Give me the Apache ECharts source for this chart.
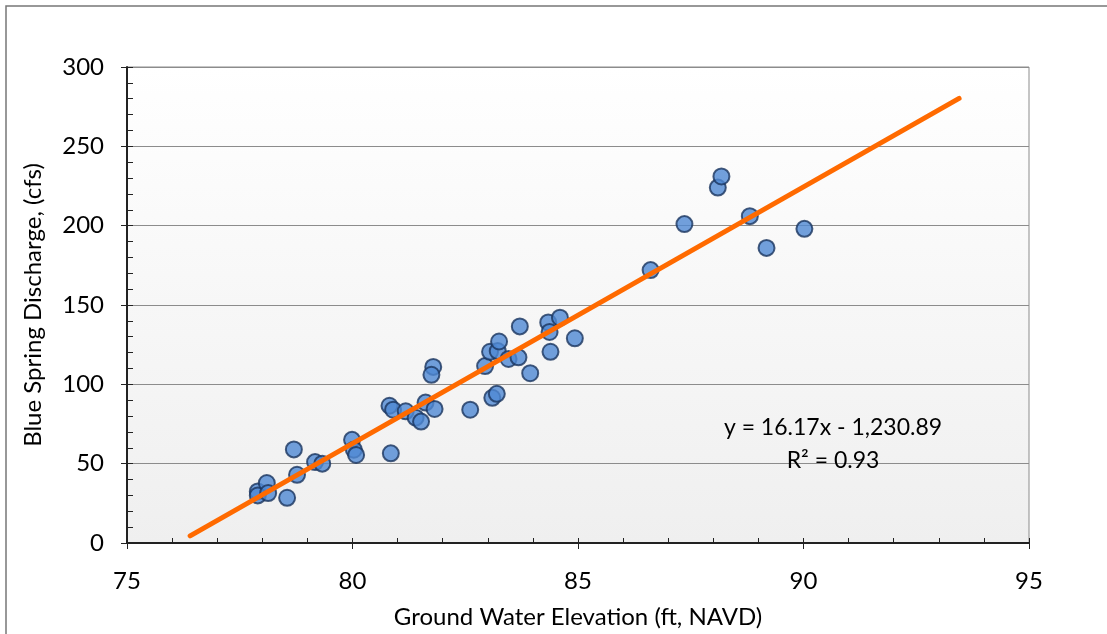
<!DOCTYPE html>
<html>
<head>
<meta charset="utf-8">
<script src="https://cdn.jsdelivr.net/npm/echarts@6/dist/echarts.min.js"></script>
<style>
html,body{margin:0;padding:0;background:#fff;}
#c{width:1107px;height:634px;}
</style>
</head>
<body>
<div id="c"></div>
<script>
// Ground water elevation (ft, NAVD)
const elevation = [77.90, 77.90, 78.10, 78.13, 78.55, 78.70, 78.77, 79.17, 79.33,
  79.99, 80.03, 80.08, 80.85, 80.82, 80.90, 81.18, 81.40, 81.52, 81.62, 81.82,
  81.79, 81.75, 82.61, 82.94, 83.05, 83.10, 83.20, 83.22, 83.25, 83.46, 83.68,
  83.71, 83.94, 84.34, 84.37, 84.39, 84.60, 84.93, 86.61, 87.36, 88.10, 88.18,
  88.81, 89.18, 90.02];
// Blue Spring discharge (cfs)
const discharge = [32.5, 30.0, 37.8, 31.5, 28.5, 59.0, 43.0, 51.0, 50.0,
  65.0, 58.8, 55.5, 56.5, 86.5, 84.0, 83.0, 79.0, 76.5, 88.5, 84.5,
  111.0, 106.0, 84.0, 111.5, 120.5, 91.5, 94.0, 121.0, 127.0, 116.0, 117.0,
  136.5, 107.0, 139.0, 133.0, 120.5, 142.0, 129.0, 172.0, 201.0, 224.0, 231.0,
  206.0, 186.0, 198.0];
// Linear trendline from the chart: y = 16.17x - 1,230.89
const slope = 16.17;
const intercept = -1230.89;
const trendRange = [76.4, 93.45];
const xTicks = [75, 80, 85, 90, 95];
const yTicks = [0, 50, 100, 150, 200, 250, 300];
const equationText = 'y = 16.17x - 1,230.89';
const r2Text = 'R\u00b2 = 0.93';

const points = elevation.map((x, i) => [x, discharge[i]]);
const trend = trendRange.map(x => [x, slope * x + intercept]);

const FONT = 'Lato, "Open Sans", sans-serif';
const chart = echarts.init(document.getElementById('c'), null, {renderer: 'canvas'});

const baseX = {
  type: 'value', min: xTicks[0], max: xTicks[xTicks.length - 1], interval: 5,
  gridIndex: 0
};
const baseY = {
  type: 'value', min: yTicks[0], max: yTicks[yTicks.length - 1], interval: 50,
  gridIndex: 0
};

chart.setOption({
  animation: false,
  backgroundColor: '#ffffff',
  grid: {
    left: 127, top: 67, right: 78, bottom: 90,
    show: true,
    borderColor: '#8c8c8c', borderWidth: 1,
    backgroundColor: new echarts.graphic.LinearGradient(0, 0, 0, 1, [
      {offset: 0, color: '#ffffff'},
      {offset: 1, color: '#efefef'}
    ])
  },
  graphic: [
    {type: 'rect', shape: {x: 6, y: 6, width: 1200, height: 700}, silent: true,
     style: {fill: 'none', stroke: '#777777', lineWidth: 1.5}, z: 100},
    {type: 'text', silent: true, z: 100, x: 833, y: 428,
     style: {text: equationText, font: '23px ' + FONT, fill: '#000', align: 'center', verticalAlign: 'middle'}},
    {type: 'text', silent: true, z: 100, x: 833, y: 461,
     style: {text: r2Text, font: '23px ' + FONT, fill: '#000', align: 'center', verticalAlign: 'middle'}}
  ],
  xAxis: [
    Object.assign({}, baseX, {
      name: 'Ground Water Elevation (ft, NAVD)',
      nameLocation: 'middle', nameGap: 62,
      nameTextStyle: {fontSize: 24, color: '#000', fontFamily: FONT},
      axisLine: {show: true, onZero: false, lineStyle: {color: '#222', width: 2}},
      axisTick: {show: true, inside: true, length: 5, lineStyle: {color: '#222', width: 1}},
      minorTick: {show: true, splitNumber: 5, length: 5, lineStyle: {color: '#222', width: 1}},
      axisLabel: {fontSize: 24, color: '#000', fontFamily: FONT, margin: 26},
      splitLine: {show: false}
    }),
    Object.assign({}, baseX, {
      position: 'bottom',
      axisLine: {show: false},
      axisTick: {show: true, inside: false, length: 6, lineStyle: {color: '#222', width: 1}},
      axisLabel: {show: false},
      splitLine: {show: false}
    })
  ],
  yAxis: [
    Object.assign({}, baseY, {
      name: 'Blue Spring Discharge, (cfs)',
      nameLocation: 'middle', nameGap: 82,
      nameTextStyle: {fontSize: 24, color: '#000', fontFamily: FONT},
      axisLine: {show: true, onZero: false, lineStyle: {color: '#222', width: 2}},
      axisTick: {show: true, inside: true, length: 6, lineStyle: {color: '#222', width: 1}},
      minorTick: {show: true, splitNumber: 5, length: 6, lineStyle: {color: '#222', width: 1}},
      axisLabel: {fontSize: 24, color: '#000', fontFamily: FONT, margin: 23},
      splitLine: {show: true, lineStyle: {color: '#8c8c8c', width: 1}}
    }),
    Object.assign({}, baseY, {
      position: 'left',
      axisLine: {show: false},
      axisTick: {show: true, inside: false, length: 6, lineStyle: {color: '#222', width: 1}},
      axisLabel: {show: false},
      splitLine: {show: false}
    })
  ],
  series: [
    {
      type: 'line', data: trend, xAxisIndex: 0, yAxisIndex: 0,
      showSymbol: false, symbol: 'none', z: 3,
      lineStyle: {color: '#ff6a00', width: 5, cap: 'round'}
    },
    {
      type: 'scatter', data: points, xAxisIndex: 0, yAxisIndex: 0,
      symbol: 'circle', symbolSize: 16, z: 2,
      itemStyle: {color: '#4f88d3', borderColor: '#1a355e', borderWidth: 2}
    }
  ]
});
</script>
</body>
</html>
